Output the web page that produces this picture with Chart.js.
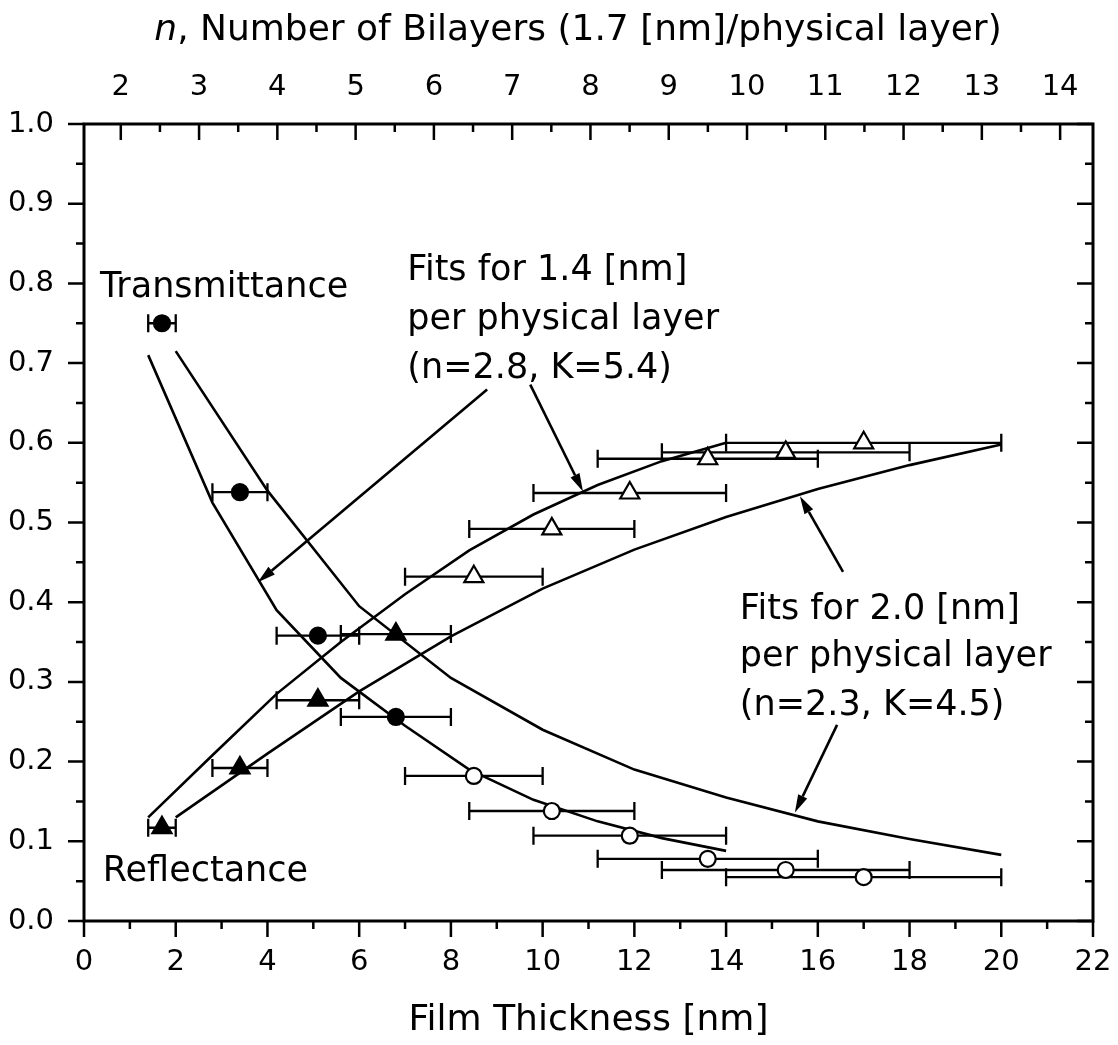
<!DOCTYPE html>
<html>
<head>
<meta charset="utf-8">
<script src="https://cdn.jsdelivr.net/npm/chart.js@4.4.1/dist/chart.umd.min.js"></script>
<style>
    html, body { margin: 0; padding: 0; background: #fff; }
</style>
</head>
<body>
<canvas id="filmChart" width="1118" height="1045"></canvas>
<script>
// Measured samples: film thickness [nm] with its +/- error
let thickness = [1.7, 3.4, 5.1, 6.8, 8.5, 10.2, 11.9, 13.6, 15.3, 17.0];
let thicknessErr = [0.3, 0.6, 0.9, 1.2, 1.5, 1.8, 2.1, 2.4, 2.7, 3.0];
let transmittance = [0.75, 0.538, 0.358, 0.256, 0.182, 0.138, 0.107, 0.078, 0.064, 0.055];
let reflectance = [0.117, 0.192, 0.277, 0.36, 0.432, 0.492, 0.537, 0.58, 0.588, 0.60];

// Fits for 1.4 nm per physical layer (n=2.8, K=5.4)
let fitX14 = [1.4, 2.8, 4.2, 5.6, 7.0, 8.4, 9.8, 11.2, 12.6, 14.0];
let fitT14 = [0.71, 0.525, 0.39, 0.305, 0.245, 0.19, 0.152, 0.125, 0.104, 0.088];
let fitR14 = [0.13, 0.208, 0.285, 0.35, 0.41, 0.465, 0.51, 0.547, 0.577, 0.60];

// Fits for 2.0 nm per physical layer (n=2.3, K=4.5)
let fitX20 = [2, 4, 6, 8, 10, 12, 14, 16, 18, 20];
let fitT20 = [0.715, 0.54, 0.395, 0.305, 0.24, 0.19, 0.155, 0.125, 0.103, 0.083];
let fitR20 = [0.13, 0.21, 0.288, 0.357, 0.417, 0.466, 0.507, 0.542, 0.572, 0.598];

// Axis ticks
let xTicks = [0, 2, 4, 6, 8, 10, 12, 14, 16, 18, 20, 22];
let yTicks = [0, 0.1, 0.2, 0.3, 0.4, 0.5, 0.6, 0.7, 0.8, 0.9, 1.0];
let nTicks = [2, 3, 4, 5, 6, 7, 8, 9, 10, 11, 12, 13, 14];
let nRange = [1.53, 14.42];

const FONT = "'DejaVu Sans', 'Liberation Sans', sans-serif";
Chart.defaults.font.family = FONT;
Chart.defaults.color = '#000';

function toPoints(xs, ys) {
    return xs.map((x, i) => ({ x: x, y: ys[i] }));
}

// fixed axis box sizes, no extra label padding
function fixBox(size) {
    return s => {
        if (s.isHorizontal()) s.height = size; else s.width = size;
        s.paddingLeft = 0; s.paddingRight = 0;
        s.paddingTop = 0; s.paddingBottom = 0;
    };
}

// white background
const whiteBg = {
    id: 'whiteBg',
    beforeDraw(chart) {
        const ctx = chart.ctx;
        ctx.save();
        ctx.fillStyle = '#fff';
        ctx.fillRect(0, 0, chart.width, chart.height);
        ctx.restore();
    }
};

// horizontal error bars, drawn under the markers
const errorBars = {
    id: 'errorBars',
    beforeDatasetsDraw(chart) {
        const { ctx, scales } = chart;
        ctx.save();
        ctx.strokeStyle = '#000';
        ctx.lineWidth = 2.3;
        [transmittance, reflectance].forEach(series => {
            series.forEach((v, i) => {
                const x0 = scales.x.getPixelForValue(thickness[i] - thicknessErr[i]);
                const x1 = scales.x.getPixelForValue(thickness[i] + thicknessErr[i]);
                const py = scales.y.getPixelForValue(v);
                ctx.beginPath();
                ctx.moveTo(x0, py); ctx.lineTo(x1, py);
                ctx.moveTo(x0, py - 9); ctx.lineTo(x0, py + 9);
                ctx.moveTo(x1, py - 9); ctx.lineTo(x1, py + 9);
                ctx.stroke();
            });
        });
        ctx.restore();
    }
};

// frame + ticks (left/bottom outward, top/right inward)
const frameTicks = {
    id: 'frameTicks',
    afterDatasetsDraw(chart) {
        const { ctx, chartArea: a, scales } = chart;
        ctx.save();
        ctx.strokeStyle = '#000';
        ctx.lineWidth = 2.5;
        ctx.beginPath();
        xTicks.forEach((v, i) => {
            const x = scales.x.getPixelForValue(v);
            ctx.moveTo(x, a.bottom); ctx.lineTo(x, a.bottom + 16);
            if (i < xTicks.length - 1) {
                const xm = scales.x.getPixelForValue((v + xTicks[i + 1]) / 2);
                ctx.moveTo(xm, a.bottom); ctx.lineTo(xm, a.bottom + 8);
            }
        });
        nTicks.forEach((v, i) => {
            const x = scales.xTop.getPixelForValue(v);
            ctx.moveTo(x, a.top); ctx.lineTo(x, a.top + 16);
            if (i < nTicks.length - 1) {
                const xm = scales.xTop.getPixelForValue(v + 0.5);
                ctx.moveTo(xm, a.top); ctx.lineTo(xm, a.top + 8);
            }
        });
        yTicks.forEach((v, i) => {
            const y = scales.y.getPixelForValue(v);
            ctx.moveTo(a.left, y); ctx.lineTo(a.left - 16, y);
            ctx.moveTo(a.right, y); ctx.lineTo(a.right - 16, y);
            if (i < yTicks.length - 1) {
                const ym = scales.y.getPixelForValue((v + yTicks[i + 1]) / 2);
                ctx.moveTo(a.left, ym); ctx.lineTo(a.left - 8, ym);
                ctx.moveTo(a.right, ym); ctx.lineTo(a.right - 8, ym);
            }
        });
        ctx.stroke();
        ctx.lineWidth = 3;
        ctx.strokeRect(a.left, a.top, a.right - a.left, a.bottom - a.top);

        // top axis title with italic n
        const cx = 578;
        const rest = ', Number of Bilayers (1.7 [nm]/physical layer)';
        ctx.fillStyle = '#000';
        ctx.textBaseline = 'middle';
        ctx.font = 'italic 36px ' + FONT;
        const wN = ctx.measureText('n').width;
        ctx.font = '36px ' + FONT;
        const wR = ctx.measureText(rest).width;
        const sx = cx - (wN + wR) / 2;
        ctx.font = 'italic 36px ' + FONT;
        ctx.textAlign = 'left';
        ctx.fillText('n', sx, 31);
        ctx.font = '36px ' + FONT;
        ctx.fillText(rest, sx + wN, 31);
        ctx.restore();
    }
};

// text labels and arrows, placed in data coordinates
const notes = {
    id: 'notes',
    afterDatasetsDraw(chart) {
        const { ctx, scales } = chart;
        const px = v => scales.x.getPixelForValue(v);
        const py = v => scales.y.getPixelForValue(v);
        ctx.save();
        ctx.fillStyle = '#000';
        ctx.font = '35px ' + FONT;
        ctx.textAlign = 'left';
        ctx.textBaseline = 'middle';
        const texts = [
            ['Transmittance', 0.35, 0.794],
            ['Reflectance', 0.41, 0.062],
            ['Fits for 1.4 [nm]', 7.05, 0.816],
            ['per physical layer', 7.05, 0.754],
            ['(n=2.8, K=5.4)', 7.05, 0.693],
            ['Fits for 2.0 [nm]', 14.3, 0.39],
            ['per physical layer', 14.3, 0.331],
            ['(n=2.3, K=4.5)', 14.3, 0.27]
        ];
        texts.forEach(t => ctx.fillText(t[0], px(t[1]), py(t[2])));

        const arrows = [
            [8.79, 0.667, 3.79, 0.425],
            [9.73, 0.673, 10.88, 0.539],
            [16.55, 0.438, 15.61, 0.533],
            [16.42, 0.246, 15.5, 0.136]
        ];
        ctx.strokeStyle = '#000';
        ctx.lineWidth = 2.6;
        arrows.forEach(a => {
            const x0 = px(a[0]), y0 = py(a[1]), x1 = px(a[2]), y1 = py(a[3]);
            const ang = Math.atan2(y1 - y0, x1 - x0);
            const hl = 18, hw = 5;
            const bx = x1 - hl * Math.cos(ang), by = y1 - hl * Math.sin(ang);
            ctx.beginPath();
            ctx.moveTo(x0, y0); ctx.lineTo(bx, by);
            ctx.stroke();
            ctx.beginPath();
            ctx.moveTo(x1, y1);
            ctx.lineTo(bx + hw * Math.sin(ang), by - hw * Math.cos(ang));
            ctx.lineTo(bx - hw * Math.sin(ang), by + hw * Math.cos(ang));
            ctx.closePath();
            ctx.fill();
        });
        ctx.restore();
    }
};

function fitLine(xs, ys) {
    return {
        data: toPoints(xs, ys),
        showLine: true,
        borderColor: '#000',
        borderWidth: 2.6,
        pointRadius: 0,
        tension: 0,
        order: 2
    };
}

let markerFill = thickness.map((t, i) => i < 4 ? '#000' : '#fff');

let chart = new Chart(document.getElementById('filmChart'), {
    type: 'scatter',
    data: {
        datasets: [
            {
                label: 'Transmittance',
                data: toPoints(thickness, transmittance),
                pointStyle: 'circle',
                pointRadius: 8,
                pointBorderWidth: 2.2,
                pointBorderColor: '#000',
                pointBackgroundColor: markerFill,
                order: 0
            },
            {
                label: 'Reflectance',
                data: toPoints(thickness, reflectance),
                pointStyle: 'triangle',
                pointRadius: 11,
                pointBorderWidth: 2.2,
                pointBorderColor: '#000',
                pointBackgroundColor: markerFill,
                order: 0
            },
            fitLine(fitX14, fitT14),
            fitLine(fitX14, fitR14),
            fitLine(fitX20, fitT20),
            fitLine(fitX20, fitR20)
        ]
    },
    options: {
        responsive: false,
        animation: false,
        events: [],
        layout: { padding: { left: 0, right: 25, top: 0, bottom: 0 } },
        plugins: {
            legend: { display: false },
            tooltip: { enabled: false }
        },
        scales: {
            x: {
                type: 'linear',
                position: 'bottom',
                min: 0,
                max: 22,
                afterBuildTicks: s => { s.ticks = xTicks.map(v => ({ value: v })); },
                ticks: { padding: 24, font: { size: 29 }, color: '#000', maxRotation: 0 },
                grid: { display: false, drawTicks: false },
                border: { display: false },
                title: {
                    display: true,
                    text: 'Film Thickness [nm]',
                    font: { size: 36 },
                    color: '#000',
                    padding: { top: 0, bottom: 3 }
                },
                afterFit: fixBox(124)
            },
            xTop: {
                type: 'linear',
                position: 'top',
                min: nRange[0],
                max: nRange[1],
                afterBuildTicks: s => { s.ticks = nTicks.map(v => ({ value: v })); },
                ticks: { padding: 19, font: { size: 29 }, color: '#000', maxRotation: 0 },
                grid: { display: false, drawTicks: false },
                border: { display: false },
                afterFit: fixBox(124)
            },
            y: {
                type: 'linear',
                position: 'left',
                min: 0,
                max: 1,
                afterBuildTicks: s => { s.ticks = yTicks.map(v => ({ value: v })); },
                ticks: { padding: 30, font: { size: 29 }, color: '#000', callback: v => v.toFixed(1) },
                grid: { display: false, drawTicks: false },
                border: { display: false },
                afterFit: fixBox(84)
            }
        }
    },
    plugins: [whiteBg, errorBars, frameTicks, notes]
});
</script>
</body>
</html>
